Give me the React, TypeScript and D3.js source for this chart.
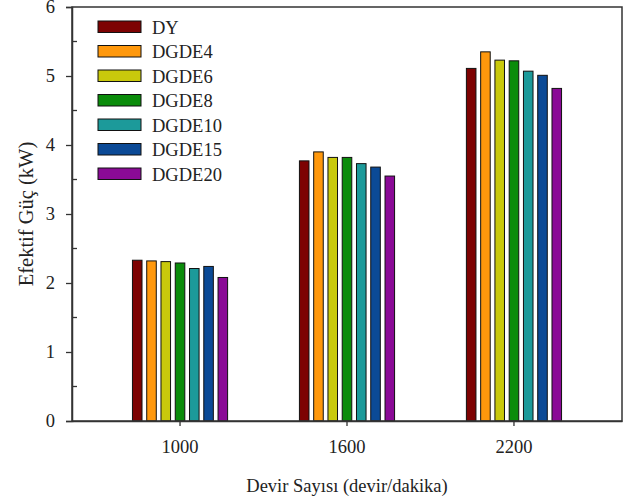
import React, { useEffect, useRef } from "react";
import * as d3 from "d3";

const categories = ["1000", "1600", "2200"];
const seriesNames = ["DY", "DGDE4", "DGDE6", "DGDE8", "DGDE10", "DGDE15", "DGDE20"];
const seriesColors = ["#7d0202", "#ff980c", "#c9c90c", "#0b8c0b", "#1c9a9a", "#0b4a96", "#8a0a96"];
// values per series, one per category (kW)
const DY = [2.33, 3.77, 5.11];
const DGDE4 = [2.32, 3.90, 5.35];
const DGDE6 = [2.31, 3.82, 5.23];
const DGDE8 = [2.29, 3.82, 5.22];
const DGDE10 = [2.21, 3.73, 5.07];
const DGDE15 = [2.24, 3.68, 5.01];
const DGDE20 = [2.08, 3.55, 4.82];
const seriesValues = [DY, DGDE4, DGDE6, DGDE8, DGDE10, DGDE15, DGDE20];
const yTicks = [0, 1, 2, 3, 4, 5, 6];
const yMinorTicks = [0.5, 1.5, 2.5, 3.5, 4.5, 5.5];

export default function App() {
  const ref = useRef<SVGSVGElement>(null);

  useEffect(() => {
    const width = 629;
    const height = 501;
    const margin = { top: 7, right: 7, bottom: 80, left: 72 };
    const plotW = width - margin.left - margin.right;
    const plotH = height - margin.top - margin.bottom;
    const font = "'Liberation Serif', 'Times New Roman', serif";
    const axisColor = "#333";

    const svg = d3.select(ref.current);
    svg.selectAll("*").remove();

    const x0 = d3.scaleBand().domain(categories).range([0, plotW]).paddingInner(0).paddingOuter(0.147);
    const x1 = d3.scaleBand().domain(seriesNames).range([0, 100]).paddingInner(0.33).paddingOuter(0.17);
    const y = d3.scaleLinear().domain([0, 6]).range([plotH, 0]);

    const g = svg.append("g").attr("transform", `translate(${margin.left},${margin.top})`);

    // bars
    const rows = categories.map((c, ci) => ({
      cat: c,
      bars: seriesNames.map((s, si) => ({ name: s, value: seriesValues[si][ci], color: seriesColors[si] })),
    }));
    const groups = g.selectAll("g.grp")
      .data(rows)
      .enter()
      .append("g")
      .attr("class", "grp")
      .attr("transform", d => `translate(${x0(d.cat)! + x0.bandwidth() / 2 - 50},0)`);
    groups.selectAll("rect")
      .data(d => d.bars)
      .enter()
      .append("rect")
      .attr("x", d => x1(d.name)!)
      .attr("y", d => y(d.value))
      .attr("width", x1.bandwidth())
      .attr("height", d => plotH - y(d.value))
      .attr("fill", d => d.color)
      .attr("stroke", "#111")
      .attr("stroke-width", 1);

    // frame
    g.append("rect")
      .attr("x", 0).attr("y", 0).attr("width", plotW).attr("height", plotH)
      .attr("fill", "none").attr("stroke", axisColor).attr("stroke-width", 1.5);

    // y axis
    const yAxis = g.append("g")
      .call(d3.axisLeft(y).tickValues(yTicks).tickSize(6).tickPadding(11).tickFormat(d3.format("d")));
    yAxis.select(".domain").attr("stroke", axisColor).attr("stroke-width", 1.5);
    yAxis.selectAll(".tick line").attr("stroke", axisColor).attr("stroke-width", 1.3);
    yAxis.selectAll(".tick text").attr("font-family", font).attr("font-size", 18.5).attr("fill", "#222");
    g.selectAll("line.minor")
      .data(yMinorTicks)
      .enter()
      .append("line")
      .attr("class", "minor")
      .attr("x1", 0).attr("x2", 5)
      .attr("y1", d => y(d)).attr("y2", d => y(d))
      .attr("stroke", axisColor).attr("stroke-width", 1.3);

    // x axis
    const xAxis = g.append("g")
      .attr("transform", `translate(0,${plotH})`)
      .call(d3.axisBottom(x0).tickSize(5).tickPadding(14).tickSizeOuter(0));
    xAxis.select(".domain").attr("stroke", axisColor).attr("stroke-width", 1.5);
    xAxis.selectAll(".tick line").attr("stroke", axisColor).attr("stroke-width", 1.3);
    xAxis.selectAll(".tick text").attr("font-family", font).attr("font-size", 18.5).attr("fill", "#222");

    // axis titles
    svg.append("text")
      .text("Devir Sayısı (devir/dakika)")
      .attr("x", margin.left + plotW / 2)
      .attr("y", 492)
      .attr("text-anchor", "middle")
      .attr("font-family", font)
      .attr("font-size", 18.5)
      .attr("fill", "#222");
    svg.append("text")
      .text("Efektif Güç (kW)")
      .attr("transform", `translate(33,${margin.top + plotH / 2}) rotate(-90)`)
      .attr("text-anchor", "middle")
      .attr("font-family", font)
      .attr("font-size", 20.5)
      .attr("fill", "#222");

    // legend
    const legend = svg.append("g").attr("transform", "translate(98,21)");
    const items = legend.selectAll("g")
      .data(seriesNames)
      .enter()
      .append("g")
      .attr("transform", (d, i) => `translate(0,${i * 24.5})`);
    items.append("rect")
      .attr("width", 43).attr("height", 11.5)
      .attr("fill", (d, i) => seriesColors[i])
      .attr("stroke", "#111").attr("stroke-width", 1);
    items.append("text")
      .text(d => d)
      .attr("x", 54)
      .attr("y", 12.5)
      .attr("font-family", font)
      .attr("font-size", 18.5)
      .attr("fill", "#222");
  }, []);

  return (
    <svg ref={ref} width={629} height={501}
      style={{ position: "absolute", left: 0, top: 0, background: "#fff" }} />
  );
}
